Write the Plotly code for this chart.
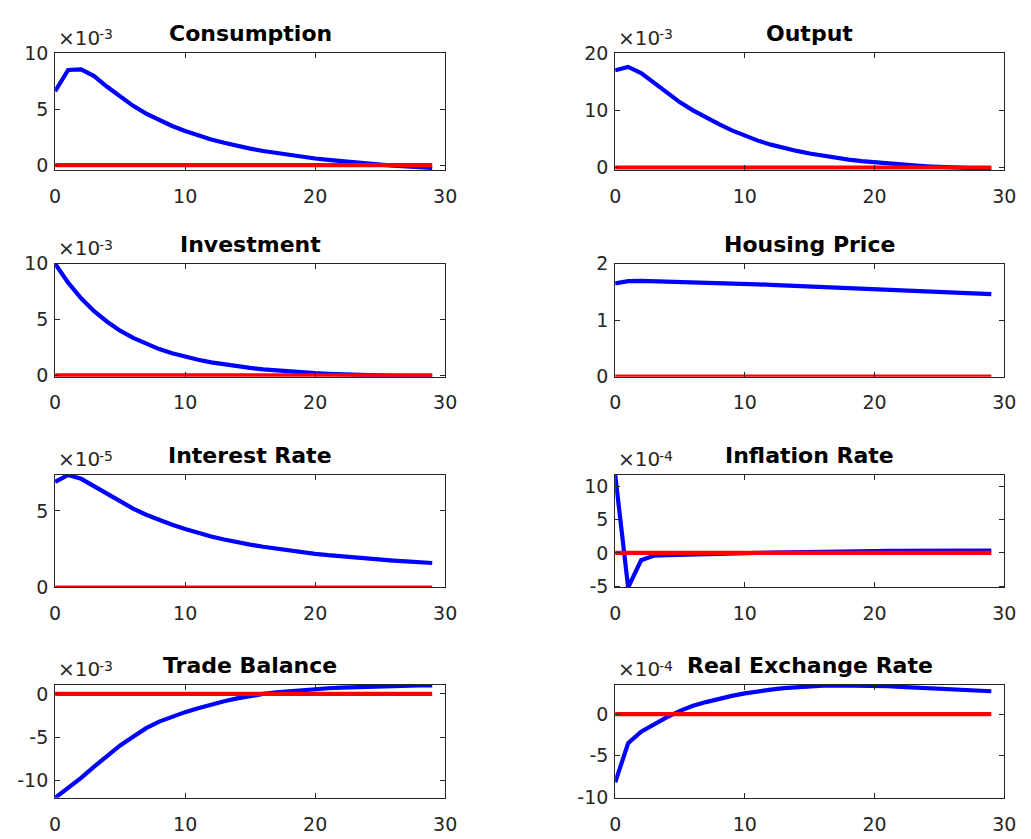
import numpy as np
import plotly.graph_objects as go

# Impulse responses, periods 0..29 (values in units of the panel's power of ten)
periods = list(range(30))

consumption = [6.6, 8.5, 8.55, 7.95, 7.0, 6.1, 5.3, 4.6, 4.0, 3.5,
               3.05, 2.65, 2.3, 2.0, 1.72, 1.48, 1.27, 1.08, 0.9, 0.74,
               0.6, 0.47, 0.35, 0.24, 0.14, 0.05, -0.03, -0.1, -0.17, -0.24]
output = [17.0, 17.6, 16.5, 14.8, 13.0, 11.4, 10.0, 8.7, 7.6, 6.5,
          5.5, 4.7, 4.0, 3.4, 2.9, 2.45, 2.05, 1.68, 1.37, 1.12,
          0.9, 0.7, 0.52, 0.36, 0.22, 0.1, -0.01, -0.1, -0.18, -0.25]
investment = [10.0, 8.3, 6.9, 5.75, 4.8, 4.0, 3.35, 2.8, 2.35, 1.98,
              1.66, 1.39, 1.16, 0.97, 0.8, 0.66, 0.54, 0.43, 0.34, 0.26,
              0.19, 0.13, 0.08, 0.04, 0.0, -0.03, -0.05, -0.07, -0.09, -0.1]
housing_price = [1.65, 1.69, 1.695, 1.69, 1.685, 1.68, 1.674, 1.667, 1.66, 1.652,
                 1.644, 1.635, 1.626, 1.617, 1.608, 1.599, 1.59, 1.58, 1.571, 1.561,
                 1.551, 1.541, 1.531, 1.521, 1.511, 1.501, 1.49, 1.48, 1.47, 1.46]
interest_rate = [6.9, 7.35, 7.1, 6.6, 6.1, 5.6, 5.15, 4.75, 4.4, 4.1,
                 3.82, 3.56, 3.33, 3.13, 2.95, 2.8, 2.66, 2.53, 2.41, 2.3,
                 2.2, 2.11, 2.03, 1.95, 1.88, 1.82, 1.76, 1.7, 1.65, 1.6]
inflation_rate = [11.8, -5.2, -1.1, -0.4, -0.35, -0.32, -0.28, -0.23, -0.18, -0.12,
                  -0.06, 0.0, 0.05, 0.1, 0.14, 0.18, 0.21, 0.24, 0.26, 0.28,
                  0.29, 0.3, 0.31, 0.32, 0.33, 0.33, 0.34, 0.34, 0.35, 0.35]
trade_balance = [-12.0, -10.9, -9.7, -8.4, -7.1, -5.95, -4.95, -3.95, -3.2, -2.6,
                 -2.1, -1.65, -1.22, -0.84, -0.51, -0.23, 0.0, 0.18, 0.33, 0.46,
                 0.57, 0.66, 0.73, 0.79, 0.84, 0.88, 0.92, 0.95, 0.98, 1.0]
real_exchange_rate = [-8.2, -3.5, -2.1, -1.2, -0.35, 0.4, 1.0, 1.45, 1.85, 2.2,
                      2.5, 2.75, 2.95, 3.12, 3.25, 3.35, 3.42, 3.45, 3.45, 3.43,
                      3.4, 3.35, 3.28, 3.2, 3.13, 3.05, 2.98, 2.9, 2.83, 2.75]
baseline = [0.0] * 30

titles = ["Consumption", "Output", "Investment", "Housing Price",
          "Interest Rate", "Inflation Rate", "Trade Balance", "Real Exchange Rate"]
series = [consumption, output, investment, housing_price,
          interest_rate, inflation_rate, trade_balance, real_exchange_rate]
exponents = [-3, -3, -3, 0, -5, -4, -3, -4]
y_ticks = [[0, 5, 10], [0, 10, 20], [0, 5, 10], [0, 1, 2],
           [0, 5], [-5, 0, 5, 10], [-10, -5, 0], [-10, -5, 0]]
y_limits = [[-0.43, 10], [-0.44, 20], [-0.12, 10], [0, 2],
            [0, 7.38], [-5.2, 11.8], [-12.0, 1.05], [-10.05, 3.52]]
x_ticks = [0, 10, 20, 30]

W, H = 1031, 839
col_px = [(50, 447), (620, 1016)]
row_px = [(43.3, 163.3), (259.5, 375.5), (476, 592), (692, 808)]

AX_COLOR = "#262626"
FONT = "DejaVu Sans, Arial, Helvetica, sans-serif"
MULT_SIZE = 20          # "×10" of the multiplier label
EXP_SIZE = 14           # raised exponent
MULT_WIDTH = 42         # rendered width of "×10" at MULT_SIZE

fig = go.Figure()
annotations = []

for k in range(8):
    r, c = divmod(k, 2)
    x0, x1 = col_px[c]
    top, bot = row_px[r]
    xa = "xaxis" if k == 0 else f"xaxis{k + 1}"
    ya = "yaxis" if k == 0 else f"yaxis{k + 1}"
    xref = "x" if k == 0 else f"x{k + 1}"
    yref = "y" if k == 0 else f"y{k + 1}"
    scale = 10.0 ** exponents[k]

    vals = np.array(series[k]) * scale
    fig.add_trace(go.Scatter(x=periods, y=vals, mode="lines",
                             line=dict(color="#0000FF", width=4.2),
                             xaxis=xref, yaxis=yref, showlegend=False,
                             hoverinfo="skip"))
    fig.add_trace(go.Scatter(x=periods, y=np.array(baseline) * scale, mode="lines",
                             line=dict(color="#FF0000", width=4.2),
                             xaxis=xref, yaxis=yref, showlegend=False,
                             hoverinfo="skip"))

    common = dict(showline=True, linecolor=AX_COLOR, linewidth=1, mirror="allticks",
                  ticks="inside", ticklen=5, tickwidth=1, tickcolor=AX_COLOR,
                  showgrid=False, zeroline=False,
                  tickfont=dict(family=FONT, size=19, color=AX_COLOR))
    fig.layout[xa] = dict(common, domain=[x0 / W, x1 / W], range=[0, 30],
                          tickvals=x_ticks, ticktext=[str(v) for v in x_ticks],
                          ticklabelstandoff=9, anchor=yref)
    fig.layout[ya] = dict(common, domain=[1 - bot / H, 1 - top / H],
                          range=[y_limits[k][0] * scale, y_limits[k][1] * scale],
                          tickvals=[v * scale for v in y_ticks[k]],
                          ticktext=[str(v) for v in y_ticks[k]],
                          ticklabelstandoff=2, anchor=xref)

    # panel title
    annotations.append(dict(text=f"<b>{titles[k]}</b>", xref="paper", yref="paper",
                            x=(x0 + x1) / 2 / W, y=1 - (top - 5) / H,
                            xanchor="center", yanchor="bottom", showarrow=False,
                            font=dict(family=FONT, size=22, color="#000000")))
    # power-of-ten multiplier: "×10" followed by a raised exponent
    if exponents[k] != 0:
        annotations.append(dict(text="\u00d710", xref="paper", yref="paper",
                                x=(x0 + 1) / W, y=1 - (top - 1.5) / H,
                                xanchor="left", yanchor="bottom", showarrow=False,
                                font=dict(family=FONT, size=MULT_SIZE, color=AX_COLOR)))
        annotations.append(dict(text=str(exponents[k]), xref="paper", yref="paper",
                                x=(x0 + 1 + MULT_WIDTH) / W, y=1 - (top - 9) / H,
                                xanchor="left", yanchor="bottom", showarrow=False,
                                font=dict(family=FONT, size=EXP_SIZE, color=AX_COLOR)))

fig.update_layout(width=W, height=H, margin=dict(l=0, r=0, t=0, b=0),
                  paper_bgcolor="white", plot_bgcolor="white",
                  annotations=annotations)

fig.write_html("out.html",
               post_script="document.body.style.margin='0';"
                           "document.body.style.overflow='hidden';")
